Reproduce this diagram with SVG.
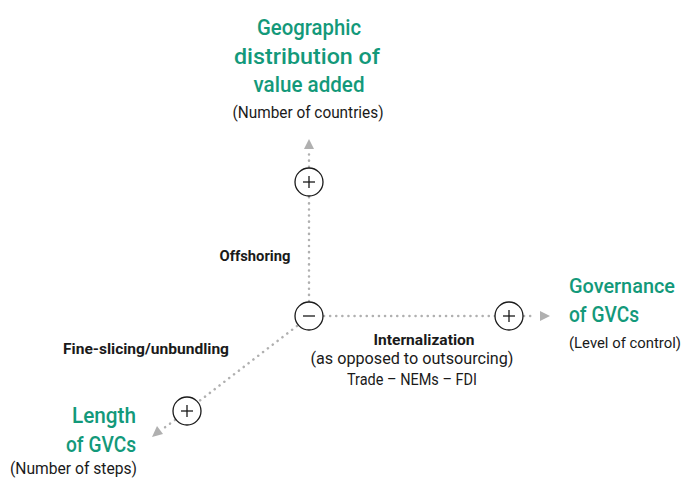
<svg xmlns="http://www.w3.org/2000/svg" width="683" height="479" viewBox="0 0 683 479">
<style>
.g{font-family:Roboto,"Liberation Sans",sans-serif;font-size:22px;font-weight:500;fill:#13997a}
.s{font-family:Roboto,"Liberation Sans",sans-serif;font-size:16px;fill:#1a1a1a}
.b{font-family:Roboto,"Liberation Sans",sans-serif;font-size:15px;font-weight:bold;fill:#1a1a1a}
.c{fill:#fff;stroke:#1a1a1a;stroke-width:1.3}
.sym{stroke:#1a1a1a;stroke-width:1.3;fill:none}
.d{stroke:#b0b0b0;stroke-width:2.5;stroke-dasharray:0.1 6;stroke-linecap:round;fill:none}
.a{fill:#b0b0b0}
</style>
<rect width="683" height="479" fill="#fff"/>
<g id="connectors">
<line class="d" x1="309" y1="301" x2="309" y2="153"/>
<polygon class="a" points="309,139 304,149 314,149"/>
<line class="d" x1="324" y1="316" x2="496" y2="316"/>
<line class="d" x1="524" y1="316" x2="536" y2="316"/>
<polygon class="a" points="550,316 540,311 540,321"/>
<line class="d" x1="297" y1="326" x2="198" y2="402"/>
<line class="d" x1="175" y1="420" x2="164" y2="428"/>
<polygon class="a" points="152,437 157,426 163,434"/>
</g>
<g id="center">
<circle class="c" cx="309" cy="316" r="14"/>
<line class="sym" x1="303" y1="316" x2="315" y2="316"/>
</g>
<g id="top">
<circle class="c" cx="309" cy="182" r="14"/>
<line class="sym" x1="303" y1="182" x2="315" y2="182"/>
<line class="sym" x1="309" y1="176" x2="309" y2="188"/>
<text class="g" x="309" y="35" text-anchor="middle" textLength="104" lengthAdjust="spacingAndGlyphs">Geographic</text>
<text class="g" x="307" y="64" text-anchor="middle" textLength="146" lengthAdjust="spacingAndGlyphs">distribution of</text>
<text class="g" x="309" y="92" text-anchor="middle" textLength="111" lengthAdjust="spacingAndGlyphs">value added</text>
<text class="s" x="308" y="118" text-anchor="middle" textLength="151" lengthAdjust="spacingAndGlyphs">(Number of countries)</text>
</g>
<g id="right">
<circle class="c" cx="509" cy="316" r="14"/>
<line class="sym" x1="503" y1="316" x2="515" y2="316"/>
<line class="sym" x1="509" y1="310" x2="509" y2="322"/>
<text class="g" x="569" y="293" style="font-size:20.5px" textLength="106" lengthAdjust="spacingAndGlyphs">Governance</text>
<text class="g" x="569" y="322" textLength="70" lengthAdjust="spacingAndGlyphs">of GVCs</text>
<text class="s" x="569" y="348" style="font-size:15px" textLength="112" lengthAdjust="spacingAndGlyphs">(Level of control)</text>
</g>
<g id="bottomleft">
<circle class="c" cx="187" cy="411" r="14"/>
<line class="sym" x1="181" y1="411" x2="193" y2="411"/>
<line class="sym" x1="187" y1="405" x2="187" y2="417"/>
<text class="g" x="136" y="423" text-anchor="end" textLength="64" lengthAdjust="spacingAndGlyphs">Length</text>
<text class="g" x="136" y="452" text-anchor="end" textLength="70" lengthAdjust="spacingAndGlyphs">of GVCs</text>
<text class="s" x="137" y="474" text-anchor="end" textLength="127" lengthAdjust="spacingAndGlyphs">(Number of steps)</text>
</g>
<g id="labels">
<text class="b" x="255" y="261" text-anchor="middle" textLength="71" lengthAdjust="spacingAndGlyphs">Offshoring</text>
<text class="b" x="146" y="354" text-anchor="middle" textLength="166" lengthAdjust="spacingAndGlyphs">Fine-slicing/unbundling</text>
<text class="b" x="424" y="345" text-anchor="middle" textLength="101" lengthAdjust="spacingAndGlyphs">Internalization</text>
<text class="s" x="412" y="364" text-anchor="middle" textLength="203" lengthAdjust="spacingAndGlyphs">(as opposed to outsourcing)</text>
<text class="s" x="412" y="385" text-anchor="middle" textLength="130" lengthAdjust="spacingAndGlyphs">Trade – NEMs – FDI</text>
</g>
</svg>
